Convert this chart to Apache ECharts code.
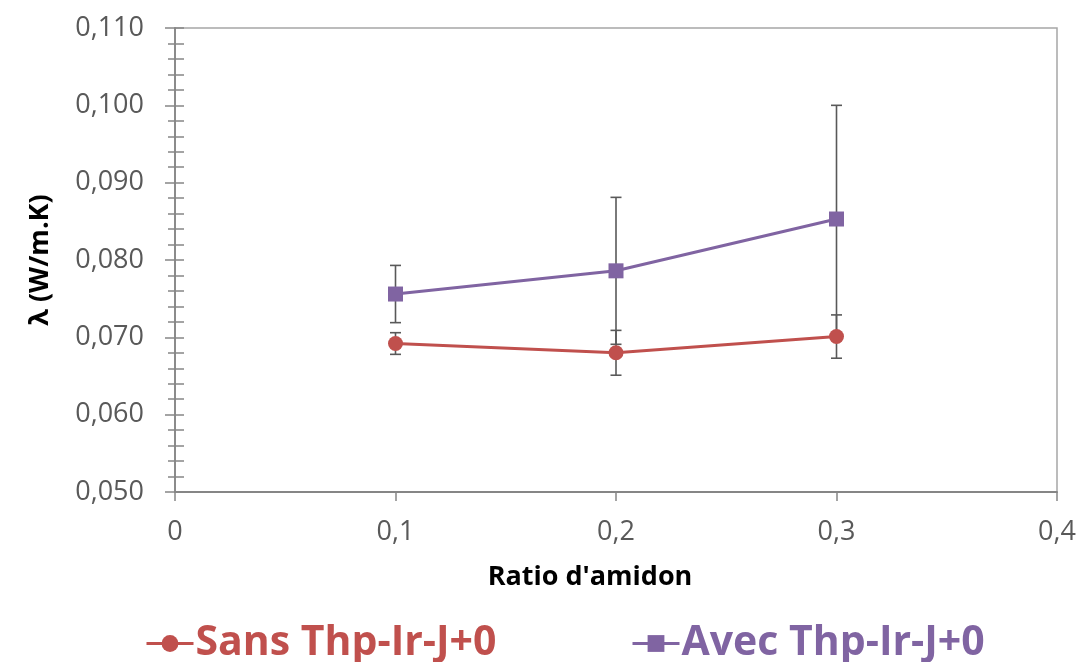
<!DOCTYPE html>
<html>
<head>
<meta charset="utf-8">
<script src="https://cdn.jsdelivr.net/npm/echarts@6/dist/echarts.min.js"></script>
<style>
html,body{margin:0;padding:0;background:#fff;}
#chart{width:1082px;height:662px;}
</style>
</head>
<body>
<div id="chart"></div>
<script>
// ---- Data ----
var ratios = [0.1, 0.2, 0.3];
var sansName = 'Sans Thp-Ir-J+0';
var avecName = 'Avec Thp-Ir-J+0';
var sansValues = [0.0692, 0.0680, 0.0701];
var sansErrors = [0.0014, 0.0029, 0.0028];
var avecValues = [0.0756, 0.0786, 0.0853];
var avecErrors = [0.0037, 0.0095, 0.0147];
var xTicks = [0, 0.1, 0.2, 0.3, 0.4];
var yTicks = [0.05, 0.06, 0.07, 0.08, 0.09, 0.10, 0.11];
var xTitle = "Ratio d'amidon";
var yTitle = 'λ (W/m.K)';

var RED = '#C0504D', PURPLE = '#8064A2', AXIS = '#868686', LABEL = '#595959', ERR = '#595959';
var FONT = '"Open Sans", "DejaVu Sans", sans-serif';

function pairs(vals) { return ratios.map(function (x, i) { return [x, vals[i]]; }); }
function errData(vals, errs) { return ratios.map(function (x, i) { return [x, vals[i] - errs[i], vals[i] + errs[i]]; }); }

function errRender(params, api) {
  var x = api.value(0);
  var lo = api.coord([x, api.value(1)]);
  var hi = api.coord([x, api.value(2)]);
  var cap = 5.5;
  var style = { stroke: ERR, lineWidth: 1.6 };
  return {
    type: 'group',
    children: [
      { type: 'line', shape: { x1: lo[0], y1: lo[1], x2: hi[0], y2: hi[1] }, style: style },
      { type: 'line', shape: { x1: lo[0] - cap, y1: lo[1], x2: lo[0] + cap, y2: lo[1] }, style: style },
      { type: 'line', shape: { x1: hi[0] - cap, y1: hi[1], x2: hi[0] + cap, y2: hi[1] }, style: style }
    ]
  };
}

var chart = echarts.init(document.getElementById('chart'), null, { renderer: 'canvas' });
var yMin = yTicks[0], yMax = yTicks[yTicks.length - 1];
var xMin = xTicks[0], xMax = xTicks[xTicks.length - 1];

function legendCfg(name, color, left) {
  return {
    data: [name], left: left, top: 618, itemWidth: 47, itemHeight: 21, itemGap: 0,
    lineStyle: { width: 3 },
    textStyle: { color: color, fontSize: 41, fontWeight: 'bold', fontFamily: FONT, padding: [0, 0, 0, -3] }
  };
}

var option = {
  animation: false,
  backgroundColor: '#fff',
  grid: { left: 175, right: 25, top: 28, bottom: 170, show: true, borderColor: '#a6a6a6', borderWidth: 1.5, containLabel: false },
  legend: [legendCfg(sansName, RED, 140), legendCfg(avecName, PURPLE, 626)],
  xAxis: {
    type: 'value', min: xMin, max: xMax, interval: 0.1,
    name: xTitle, nameLocation: 'middle', nameGap: 72,
    nameTextStyle: { color: '#000', fontSize: 27, fontWeight: 'bold', fontFamily: FONT, padding: [0, 52, 0, 0] },
    axisLine: { show: true, lineStyle: { color: AXIS, width: 1.8 } },
    axisTick: { show: true, length: 9, lineStyle: { color: AXIS, width: 1.5 } },
    axisLabel: {
      color: LABEL, fontSize: 27, fontFamily: FONT, margin: 27,
      formatter: function (v) { return v === 0 ? '0' : v.toFixed(1).replace('.', ','); }
    },
    splitLine: { show: false }
  },
  yAxis: [
    {
      type: 'value', min: yMin, max: yMax, interval: 0.01, position: 'left',
      name: yTitle, nameLocation: 'middle', nameGap: 121,
      nameTextStyle: { color: '#000', fontSize: 27, fontWeight: 'bold', fontFamily: FONT },
      axisLine: { show: true, lineStyle: { color: AXIS, width: 1.8 } },
      axisTick: { show: true, length: 10, lineStyle: { color: AXIS, width: 1.5 } },
      minorTick: { show: true, splitNumber: 5, length: 7, lineStyle: { color: AXIS, width: 1.5 } },
      axisLabel: {
        color: LABEL, fontSize: 27, fontFamily: FONT, margin: 31,
        formatter: function (v) { return v.toFixed(3).replace('.', ','); }
      },
      splitLine: { show: false }, minorSplitLine: { show: false }
    },
    {
      type: 'value', min: yMin, max: yMax, interval: 0.01, position: 'left', offset: 0,
      axisLine: { show: false },
      axisTick: { show: true, inside: true, length: 9, lineStyle: { color: AXIS, width: 1.5 } },
      minorTick: { show: true, splitNumber: 5, length: 9, lineStyle: { color: AXIS, width: 1.5 } },
      axisLabel: { show: false },
      splitLine: { show: false }, minorSplitLine: { show: false }
    }
  ],
  series: [
    {
      type: 'custom', name: 'errSans', renderItem: errRender, data: errData(sansValues, sansErrors),
      encode: { x: 0, y: [1, 2] }, z: 1, silent: true
    },
    {
      type: 'custom', name: 'errAvec', renderItem: errRender, data: errData(avecValues, avecErrors),
      encode: { x: 0, y: [1, 2] }, z: 1, silent: true
    },
    {
      type: 'line', name: sansName, data: pairs(sansValues), z: 3,
      symbol: 'circle', symbolSize: 15, showAllSymbol: true,
      lineStyle: { color: RED, width: 3 }, itemStyle: { color: RED }
    },
    {
      type: 'line', name: avecName, data: pairs(avecValues), z: 4,
      symbol: 'rect', symbolSize: 15, showAllSymbol: true,
      lineStyle: { color: PURPLE, width: 3 }, itemStyle: { color: PURPLE }
    }
  ]
};
chart.setOption(option);
</script>
</body>
</html>
